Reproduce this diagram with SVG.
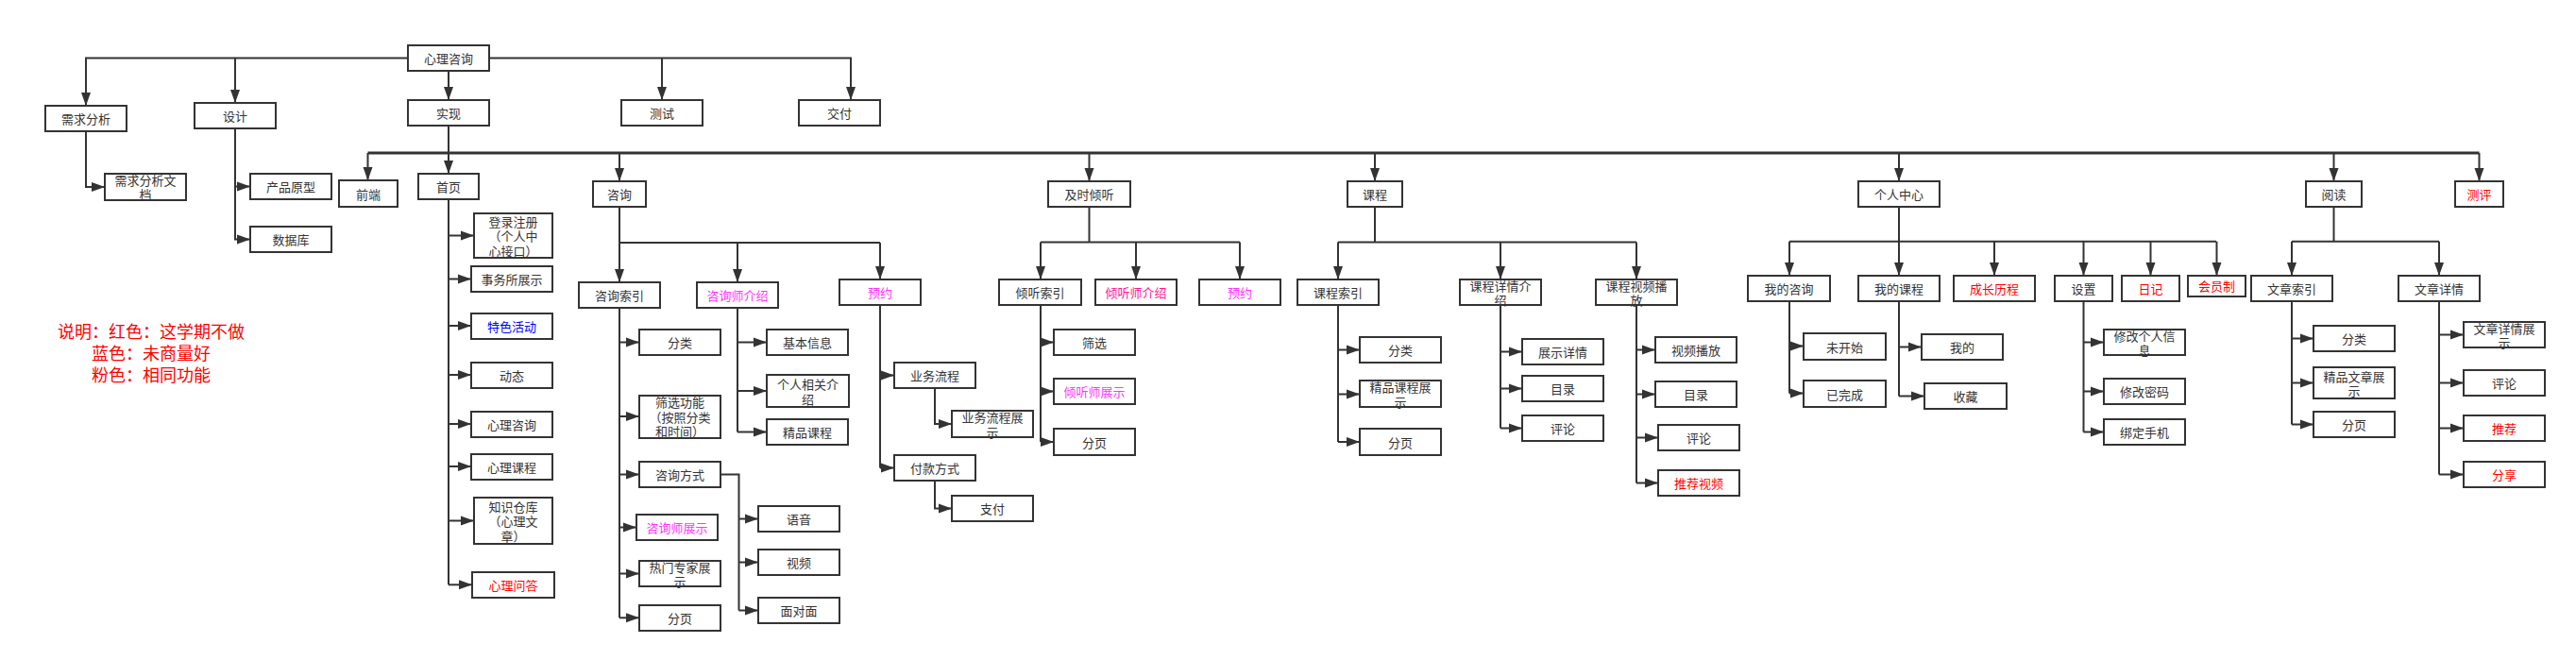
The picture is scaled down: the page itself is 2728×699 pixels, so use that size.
<svg xmlns="http://www.w3.org/2000/svg" width="2728" height="699" viewBox="0 0 2728 699">
<style>
.b{fill:#fff;stroke:#333;stroke-width:2}
.t{font-family:"Noto Sans CJK SC","Noto Sans",sans-serif;font-size:13px;fill:#333;text-anchor:middle;dominant-baseline:central}
.r{fill:#FF0000}.p{fill:#FF33FF}.dp{fill:#FF1493}.bl{fill:#0000FF}
.c{fill:none;stroke:#333;stroke-width:2}
.m{fill:none;stroke:#333;stroke-width:3}
.a{fill:none;stroke:#333;stroke-width:2;marker-end:url(#ar)}
.lg{font-family:"Noto Sans CJK SC","Noto Sans",sans-serif;font-size:18px;fill:#FF0000;text-anchor:middle;dominant-baseline:central}
</style>
<defs>
<marker id="ar" markerUnits="userSpaceOnUse" markerWidth="15" markerHeight="11" refX="14" refY="5.5" orient="auto">
<path d="M0,0.5 L14,5.5 L0,10.5 z" fill="#333"/>
</marker>
</defs>
<rect width="2728" height="699" fill="#fff"/>
<g id="connectors">
<!-- top level -->
<path class="a" d="M432,61.5 H91 V112"/>
<path class="a" d="M249,61.5 V109"/>
<path class="a" d="M518,61.5 H901 V106"/>
<path class="a" d="M701,61.5 V106"/>
<path class="a" d="M475,75 V106"/>
<path class="a" d="M91,139 V198 H111"/>
<path class="a" d="M249,136 V197.5 H265"/>
<path class="a" d="M249,197.5 V253.5 H265"/>
<!-- main bus -->
<path class="c" d="M475,133 V162"/>
<path class="m" d="M389.5,162 H2625.5"/>
<path class="a" d="M389.5,162 V191"/>
<path class="a" d="M475,162 V184"/>
<path class="a" d="M656,162 V192"/>
<path class="a" d="M1153.5,162 V192"/>
<path class="a" d="M1456,162 V192"/>
<path class="a" d="M2011,162 V192"/>
<path class="a" d="M2471.5,162 V192"/>
<path class="a" d="M2625.5,162 V192"/>
<!-- 首页 -->
<path class="c" d="M475,211 V619.3"/>
<path class="a" d="M475,249.5 H502"/>
<path class="a" d="M475,295.5 H499"/>
<path class="a" d="M475,345 H499"/>
<path class="a" d="M475,397 H499"/>
<path class="a" d="M475,449 H499"/>
<path class="a" d="M475,494 H499"/>
<path class="a" d="M475,551.5 H502"/>
<path class="a" d="M475,619.3 H500"/>
<!-- 咨询 -->
<path class="c" d="M656,219 V257 H932"/>
<path class="a" d="M656,257 V299"/>
<path class="a" d="M781,257 V299"/>
<path class="a" d="M932,257 V296"/>
<path class="c" d="M656,326 V654.3"/>
<path class="a" d="M656,362.5 H677"/>
<path class="a" d="M656,441 H677"/>
<path class="a" d="M656,502.5 H677"/>
<path class="a" d="M656,558.5 H674"/>
<path class="a" d="M656,607.5 H677"/>
<path class="a" d="M656,654.3 H677"/>
<path class="c" d="M763,502.5 H782.5 V646.5"/>
<path class="a" d="M782.5,549.5 H803"/>
<path class="a" d="M782.5,595.5 H803"/>
<path class="a" d="M782.5,646.5 H803"/>
<path class="c" d="M781,326 V457.5"/>
<path class="a" d="M781,362.5 H812"/>
<path class="a" d="M781,414 H812"/>
<path class="a" d="M781,457.5 H812"/>
<path class="c" d="M932,323 V495.5"/>
<path class="a" d="M932,397.5 H947"/>
<path class="a" d="M932,495.5 H947"/>
<path class="a" d="M990,411 V449 H1008"/>
<path class="a" d="M990,509 V538.5 H1008"/>
<!-- 及时倾听 -->
<path class="c" d="M1153.5,219 V256.5"/>
<path class="c" d="M1102,256.5 H1313"/>
<path class="a" d="M1102,256.5 V296"/>
<path class="a" d="M1203,256.5 V296"/>
<path class="a" d="M1313,256.5 V296"/>
<path class="c" d="M1102,323 V468"/>
<path class="a" d="M1102,362.5 H1116"/>
<path class="a" d="M1102,414.5 H1116"/>
<path class="a" d="M1102,468 H1116"/>
<!-- 课程 -->
<path class="c" d="M1456,219 V256.5"/>
<path class="c" d="M1417,256.5 H1733"/>
<path class="a" d="M1417,256.5 V296"/>
<path class="a" d="M1589,256.5 V296"/>
<path class="a" d="M1733,256.5 V296"/>
<path class="c" d="M1417,323 V468"/>
<path class="a" d="M1417,370.5 H1440"/>
<path class="a" d="M1417,417.5 H1440"/>
<path class="a" d="M1417,468 H1440"/>
<path class="c" d="M1589,323 V453.5"/>
<path class="a" d="M1589,372.5 H1612"/>
<path class="a" d="M1589,411.5 H1612"/>
<path class="a" d="M1589,453.5 H1612"/>
<path class="c" d="M1733,323 V511.5"/>
<path class="a" d="M1733,370.5 H1753"/>
<path class="a" d="M1733,417.5 H1753"/>
<path class="a" d="M1733,463.5 H1756"/>
<path class="a" d="M1733,511.5 H1756"/>
<!-- 个人中心 -->
<path class="c" d="M2011,219 V255.7"/>
<path class="c" d="M1895,255.7 H2347"/>
<path class="a" d="M1895,255.7 V292"/>
<path class="a" d="M2011,255.7 V292"/>
<path class="a" d="M2112,255.7 V292"/>
<path class="a" d="M2206.5,255.7 V292"/>
<path class="a" d="M2277.5,255.7 V292"/>
<path class="a" d="M2347.5,255.7 V292"/>
<path class="c" d="M1895,319 V416.5"/>
<path class="a" d="M1895,366.5 H1910"/>
<path class="a" d="M1895,416.5 H1910"/>
<path class="c" d="M2011,319 V419.5"/>
<path class="a" d="M2011,367.5 H2035"/>
<path class="a" d="M2011,419.5 H2038"/>
<path class="c" d="M2206.5,319 V457.5"/>
<path class="a" d="M2206.5,362.5 H2228"/>
<path class="a" d="M2206.5,414.5 H2228"/>
<path class="a" d="M2206.5,457.5 H2228"/>
<!-- 阅读 -->
<path class="c" d="M2471.5,219 V255.7"/>
<path class="c" d="M2427,255.7 H2583"/>
<path class="a" d="M2427,255.7 V292"/>
<path class="a" d="M2583,255.7 V292"/>
<path class="c" d="M2427,319 V449.5"/>
<path class="a" d="M2427,358.5 H2450"/>
<path class="a" d="M2427,405.5 H2450"/>
<path class="a" d="M2427,449.5 H2450"/>
<path class="c" d="M2583,319 V502.5"/>
<path class="a" d="M2583,354.5 H2609"/>
<path class="a" d="M2583,405.5 H2609"/>
<path class="a" d="M2583,453.5 H2609"/>
<path class="a" d="M2583,502.5 H2609"/>
</g>
<!-- nodes -->
<g id="n-root"><rect class="b" x="432" y="48" width="86" height="27"/><text class="t" x="475" y="61.5">心理咨询</text></g>
<g id="n-xqfx"><rect class="b" x="48" y="112" width="86" height="27"/><text class="t" x="91" y="125.5">需求分析</text></g>
<g id="n-sj"><rect class="b" x="206" y="109" width="86" height="27"/><text class="t" x="249" y="122.5">设计</text></g>
<g id="n-sx"><rect class="b" x="432" y="106" width="86" height="27"/><text class="t" x="475" y="119.5">实现</text></g>
<g id="n-cs"><rect class="b" x="658" y="106" width="86" height="27"/><text class="t" x="701" y="119.5">测试</text></g>
<g id="n-jf"><rect class="b" x="846" y="106" width="86" height="27"/><text class="t" x="889" y="119.5">交付</text></g>
<g id="n-xqwd"><rect class="b" x="111" y="184" width="86" height="28"/><text class="t" x="154" y="190.5">需求分析文</text><text class="t" x="154" y="205.5">档</text></g>
<g id="n-cpyx"><rect class="b" x="265" y="184" width="86" height="27"/><text class="t" x="308" y="197.5">产品原型</text></g>
<g id="n-sjk"><rect class="b" x="265" y="240" width="86" height="27"/><text class="t" x="308" y="253.5">数据库</text></g>

<g id="n-qd"><rect class="b" x="359" y="191" width="62" height="28"/><text class="t" x="390" y="205">前端</text></g>
<g id="n-sy"><rect class="b" x="443" y="184" width="64" height="27"/><text class="t" x="475" y="197.5">首页</text></g>
<g id="n-zx"><rect class="b" x="628" y="192" width="56" height="27"/><text class="t" x="656" y="205.5">咨询</text></g>
<g id="n-jsqt"><rect class="b" x="1110" y="192" width="87" height="27"/><text class="t" x="1153.5" y="205.5">及时倾听</text></g>
<g id="n-kc"><rect class="b" x="1427" y="192" width="58" height="27"/><text class="t" x="1456" y="205.5">课程</text></g>
<g id="n-grzx"><rect class="b" x="1968" y="192" width="86" height="27"/><text class="t" x="2011" y="205.5">个人中心</text></g>
<g id="n-yd"><rect class="b" x="2442" y="192" width="59" height="27"/><text class="t" x="2471.5" y="205.5">阅读</text></g>
<g id="n-cp"><rect class="b" x="2600" y="192" width="51" height="27"/><text class="t r" x="2625.5" y="205.5">测评</text></g>

<g id="n-dlzc"><rect class="b" x="502" y="226" width="83" height="47"/><text class="t" x="543.5" y="234">登录注册</text><text class="t" x="543.5" y="249.5">（个人中</text><text class="t" x="543.5" y="265">心接口）</text></g>
<g id="n-swszs"><rect class="b" x="499" y="282" width="86" height="27"/><text class="t" x="542" y="295.5">事务所展示</text></g>
<g id="n-tshd"><rect class="b" x="499" y="332" width="86" height="27"/><text class="t bl" x="542" y="345.5">特色活动</text></g>
<g id="n-dt"><rect class="b" x="499" y="384" width="86" height="27"/><text class="t" x="542" y="397.5">动态</text></g>
<g id="n-xlzx"><rect class="b" x="499" y="436" width="86" height="27"/><text class="t" x="542" y="449.5">心理咨询</text></g>
<g id="n-xlkc"><rect class="b" x="499" y="481" width="86" height="27"/><text class="t" x="542" y="494.5">心理课程</text></g>
<g id="n-zsck"><rect class="b" x="502" y="527" width="83" height="49"/><text class="t" x="543.5" y="536">知识仓库</text><text class="t" x="543.5" y="551.5">（心理文</text><text class="t" x="543.5" y="567">章）</text></g>
<g id="n-xlwd"><rect class="b" x="500" y="606" width="87" height="27"/><text class="t r" x="543.5" y="619.5">心理问答</text></g>

<g id="n-zxsy"><rect class="b" x="613" y="299" width="86" height="27"/><text class="t" x="656" y="312.5">咨询索引</text></g>
<g id="n-zxsjs"><rect class="b" x="738" y="299" width="86" height="27"/><text class="t p" x="781" y="312.5">咨询师介绍</text></g>
<g id="n-yy1"><rect class="b" x="889" y="296" width="86" height="27"/><text class="t p" x="932" y="309.5">预约</text></g>
<g id="n-fl1"><rect class="b" x="677" y="349" width="86" height="27"/><text class="t" x="720" y="362.5">分类</text></g>
<g id="n-sxgn"><rect class="b" x="677" y="419" width="86" height="45"/><text class="t" x="720" y="425.5">筛选功能</text><text class="t" x="720" y="441">（按照分类</text><text class="t" x="720" y="456.5">和时间）</text></g>
<g id="n-zxfs"><rect class="b" x="677" y="489" width="86" height="27"/><text class="t" x="720" y="502.5">咨询方式</text></g>
<g id="n-zxszs"><rect class="b" x="674" y="545" width="86" height="27"/><text class="t p" x="717" y="558.5">咨询师展示</text></g>
<g id="n-rmzj"><rect class="b" x="677" y="594" width="86" height="27"/><text class="t" x="720" y="600">热门专家展</text><text class="t" x="720" y="615.5">示</text></g>
<g id="n-fy1"><rect class="b" x="677" y="641" width="86" height="27"/><text class="t" x="720" y="654.5">分页</text></g>
<g id="n-yy"><rect class="b" x="803" y="536" width="86" height="27"/><text class="t" x="846" y="549.5">语音</text></g>
<g id="n-sp"><rect class="b" x="803" y="582" width="86" height="27"/><text class="t" x="846" y="595.5">视频</text></g>
<g id="n-mdm"><rect class="b" x="803" y="633" width="86" height="27"/><text class="t" x="846" y="646.5">面对面</text></g>
<g id="n-jbxx"><rect class="b" x="812" y="349" width="86" height="27"/><text class="t" x="855" y="362.5">基本信息</text></g>
<g id="n-grxg"><rect class="b" x="812" y="397" width="87" height="34"/><text class="t" x="855.5" y="406.5">个人相关介</text><text class="t" x="855.5" y="422">绍</text></g>
<g id="n-jpkc"><rect class="b" x="812" y="444" width="86" height="27"/><text class="t" x="855" y="457.5">精品课程</text></g>
<g id="n-ywlc"><rect class="b" x="947" y="384" width="86" height="27"/><text class="t" x="990" y="397.5">业务流程</text></g>
<g id="n-fkfs"><rect class="b" x="947" y="482" width="86" height="27"/><text class="t" x="990" y="495.5">付款方式</text></g>
<g id="n-ywlczs"><rect class="b" x="1008" y="435" width="86" height="28"/><text class="t" x="1051" y="441.5">业务流程展</text><text class="t" x="1051" y="457">示</text></g>
<g id="n-zf"><rect class="b" x="1008" y="525" width="86" height="27"/><text class="t" x="1051" y="538.5">支付</text></g>

<g id="n-qtsy"><rect class="b" x="1058" y="296" width="87" height="27"/><text class="t" x="1101.5" y="309.5">倾听索引</text></g>
<g id="n-qtsjs"><rect class="b" x="1160" y="296" width="86" height="27"/><text class="t dp" x="1203" y="309.5">倾听师介绍</text></g>
<g id="n-yy2"><rect class="b" x="1270" y="296" width="86" height="27"/><text class="t p" x="1313" y="309.5">预约</text></g>
<g id="n-sx2"><rect class="b" x="1116" y="349" width="86" height="27"/><text class="t" x="1159" y="362.5">筛选</text></g>
<g id="n-qtszs"><rect class="b" x="1116" y="401" width="86" height="27"/><text class="t p" x="1159" y="414.5">倾听师展示</text></g>
<g id="n-fy2"><rect class="b" x="1116" y="454" width="86" height="28"/><text class="t" x="1159" y="468">分页</text></g>

<g id="n-kcsy"><rect class="b" x="1374" y="296" width="86" height="27"/><text class="t" x="1417" y="309.5">课程索引</text></g>
<g id="n-kcxq"><rect class="b" x="1546" y="296" width="86" height="27"/><text class="t" x="1589" y="302">课程详情介</text><text class="t" x="1589" y="317.5">绍</text></g>
<g id="n-kcsp"><rect class="b" x="1690" y="296" width="86" height="27"/><text class="t" x="1733" y="302">课程视频播</text><text class="t" x="1733" y="317.5">放</text></g>
<g id="n-fl3"><rect class="b" x="1440" y="357" width="86" height="27"/><text class="t" x="1483" y="370.5">分类</text></g>
<g id="n-jpkczs"><rect class="b" x="1440" y="403" width="86" height="28"/><text class="t" x="1483" y="409.5">精品课程展</text><text class="t" x="1483" y="425">示</text></g>
<g id="n-fy3"><rect class="b" x="1440" y="454" width="86" height="28"/><text class="t" x="1483" y="468">分页</text></g>
<g id="n-zsxq"><rect class="b" x="1612" y="359" width="86" height="27"/><text class="t" x="1655" y="372.5">展示详情</text></g>
<g id="n-ml1"><rect class="b" x="1612" y="398" width="86" height="27"/><text class="t" x="1655" y="411.5">目录</text></g>
<g id="n-pl1"><rect class="b" x="1612" y="440" width="86" height="27"/><text class="t" x="1655" y="453.5">评论</text></g>
<g id="n-spbf"><rect class="b" x="1753" y="357" width="86" height="27"/><text class="t" x="1796" y="370.5">视频播放</text></g>
<g id="n-ml2"><rect class="b" x="1753" y="404" width="86" height="27"/><text class="t" x="1796" y="417.5">目录</text></g>
<g id="n-pl2"><rect class="b" x="1756" y="450" width="86" height="27"/><text class="t" x="1799" y="463.5">评论</text></g>
<g id="n-tjsp"><rect class="b" x="1756" y="498" width="86" height="27"/><text class="t r" x="1799" y="511.5">推荐视频</text></g>

<g id="n-wdzx"><rect class="b" x="1851" y="292" width="87" height="27"/><text class="t" x="1894.5" y="305.5">我的咨询</text></g>
<g id="n-wdkc"><rect class="b" x="1968" y="292" width="86" height="27"/><text class="t" x="2011" y="305.5">我的课程</text></g>
<g id="n-czlc"><rect class="b" x="2069" y="292" width="86" height="27"/><text class="t r" x="2112" y="305.5">成长历程</text></g>
<g id="n-sz"><rect class="b" x="2176" y="292" width="61" height="27"/><text class="t" x="2206.5" y="305.5">设置</text></g>
<g id="n-rj"><rect class="b" x="2247" y="292" width="61" height="27"/><text class="t r" x="2277.5" y="305.5">日记</text></g>
<g id="n-hyz"><rect class="b" x="2317" y="292" width="61" height="22"/><text class="t r" x="2347.5" y="302.5">会员制</text></g>
<g id="n-wks"><rect class="b" x="1910" y="353" width="87" height="28"/><text class="t" x="1953.5" y="367">未开始</text></g>
<g id="n-ywc"><rect class="b" x="1910" y="403" width="87" height="28"/><text class="t" x="1953.5" y="417">已完成</text></g>
<g id="n-wd"><rect class="b" x="2035" y="354" width="86" height="27"/><text class="t" x="2078" y="367.5">我的</text></g>
<g id="n-sc"><rect class="b" x="2038" y="406" width="87" height="27"/><text class="t" x="2081.5" y="419.5">收藏</text></g>
<g id="n-xggr"><rect class="b" x="2228" y="349" width="86" height="27"/><text class="t" x="2271" y="355">修改个人信</text><text class="t" x="2271" y="370.5">息</text></g>
<g id="n-xgmm"><rect class="b" x="2228" y="401" width="86" height="27"/><text class="t" x="2271" y="414.5">修改密码</text></g>
<g id="n-bdsj"><rect class="b" x="2228" y="444" width="86" height="27"/><text class="t" x="2271" y="457.5">绑定手机</text></g>

<g id="n-wzsy"><rect class="b" x="2384" y="292" width="86" height="27"/><text class="t" x="2427" y="305.5">文章索引</text></g>
<g id="n-wzxq"><rect class="b" x="2540" y="292" width="86" height="27"/><text class="t" x="2583" y="305.5">文章详情</text></g>
<g id="n-fl4"><rect class="b" x="2450" y="345" width="86" height="27"/><text class="t" x="2493" y="358.5">分类</text></g>
<g id="n-jpwz"><rect class="b" x="2450" y="389" width="86" height="33"/><text class="t" x="2493" y="398">精品文章展</text><text class="t" x="2493" y="413.5">示</text></g>
<g id="n-fy4"><rect class="b" x="2450" y="436" width="86" height="27"/><text class="t" x="2493" y="449.5">分页</text></g>
<g id="n-wzxqzs"><rect class="b" x="2609" y="341" width="86" height="27"/><text class="t" x="2652" y="347">文章详情展</text><text class="t" x="2652" y="362.5">示</text></g>
<g id="n-pl3"><rect class="b" x="2609" y="392" width="86" height="27"/><text class="t" x="2652" y="405.5">评论</text></g>
<g id="n-tj"><rect class="b" x="2609" y="440" width="86" height="27"/><text class="t r" x="2652" y="453.5">推荐</text></g>
<g id="n-fx"><rect class="b" x="2609" y="489" width="86" height="27"/><text class="t r" x="2652" y="502.5">分享</text></g>

<g id="legend">
<text class="lg" x="160" y="350">说明：红色：这学期不做</text>
<text class="lg" x="160" y="373">蓝色：未商量好</text>
<text class="lg" x="160" y="395.5">粉色：相同功能</text>
</g>
</svg>
